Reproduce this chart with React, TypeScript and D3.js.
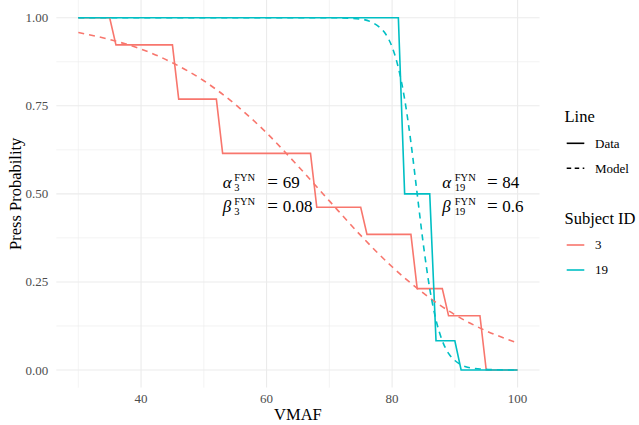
import React from "react";
import * as d3 from "d3";

// ---------- data ----------
const xTicks = [40, 60, 80, 100];
const xMinorTicks = [30, 50, 70, 90];
const yTicks = [0, 0.25, 0.5, 0.75, 1];
const yMinorTicks = [0.125, 0.375, 0.625, 0.875];

const subjects = ["3", "19"];
const subjectColors = ["#F8766D", "#00BFC4"];

// Subject 3: observed press probability (step line)
const data3X = [30, 35, 36, 45, 46, 52, 53, 67, 68, 75, 76, 83, 84, 88, 89, 94, 95, 100];
const data3Y = [1, 1, 0.923, 0.923, 0.769, 0.769, 0.615, 0.615, 0.462, 0.462, 0.385, 0.385, 0.231, 0.231, 0.154, 0.154, 0, 0];

// Subject 19: observed press probability (step line)
const data19X = [30, 81, 82, 86, 87, 90, 91, 100];
const data19Y = [1, 1, 0.5, 0.5, 0.083, 0.083, 0, 0];

// Subject 3: model curve
const model3X = [30, 35, 40, 45, 50, 55, 60, 65, 70, 75, 80, 85, 90, 95, 100];
const model3Y = [0.958, 0.938, 0.911, 0.872, 0.821, 0.754, 0.673, 0.579, 0.48, 0.382, 0.293, 0.218, 0.157, 0.111, 0.077];

// Subject 19: model curve
const model19X = [30, 70, 75, 77, 78, 79, 80, 81, 82, 83, 84, 85, 86, 87, 88, 89, 90, 91, 92, 94, 97, 100];
const model19Y = [1, 1, 0.996, 0.985, 0.973, 0.953, 0.917, 0.858, 0.769, 0.646, 0.5, 0.354, 0.231, 0.142, 0.083, 0.047, 0.027, 0.015, 0.008, 0.003, 0.0005, 0];

// Annotation values
const annSubs = ["3", "19"];
const annAlpha = ["69", "84"];
const annBeta = ["0.08", "0.6"];
const annX = [53, 88];
const annY = [0.5, 0.5];

const lineTypes = ["Data", "Model"];

// ---------- layout ----------
const W = 639;
const H = 425;
const FONT = "'Liberation Serif', 'Times New Roman', serif";

export default function App() {
  const x = d3.scaleLinear().domain([30, 100]).range([78.3, 517.6]);
  const y = d3.scaleLinear().domain([0, 1]).range([370, 17.7]);
  const xPad = 3.5;
  const yPad = 0.05;
  const pL = x(30 - xPad);
  const pR = x(100 + xPad);
  const pT = y(1 + yPad);
  const pB = y(0 - yPad);

  const toPts = (xs: number[], ys: number[]) => xs.map((v, i) => [v, ys[i]] as [number, number]);

  const stepLine = d3
    .line<[number, number]>()
    .x((d) => x(d[0]))
    .y((d) => y(d[1]));
  const smoothLine = d3
    .line<[number, number]>()
    .x((d) => x(d[0]))
    .y((d) => y(d[1]))
    .curve(d3.curveMonotoneX);

  const dataSeries = [toPts(data3X, data3Y), toPts(data19X, data19Y)];
  const modelSeries = [toPts(model3X, model3Y), toPts(model19X, model19Y)];

  const grid = "#EBEBEB";
  const tickColor = "#4D4D4D";
  const lw = 1.6;

  const legX = 566.7;
  const keyW = 17.6;

  return (
    <svg width={W} height={H} style={{ position: "absolute", left: 0, top: 0, background: "#fff" }} fontFamily={FONT}>
      <rect x={0} y={0} width={W} height={H} fill="#fff" />
      {/* grid */}
      {yMinorTicks.map((t) => (
        <line key={"ym" + t} x1={pL} x2={pR} y1={y(t)} y2={y(t)} stroke={grid} strokeWidth={0.6} />
      ))}
      {xMinorTicks.map((t) => (
        <line key={"xm" + t} x1={x(t)} x2={x(t)} y1={pT} y2={pB} stroke={grid} strokeWidth={0.6} />
      ))}
      {yTicks.map((t) => (
        <line key={"y" + t} x1={pL} x2={pR} y1={y(t)} y2={y(t)} stroke={grid} strokeWidth={1.1} />
      ))}
      {xTicks.map((t) => (
        <line key={"x" + t} x1={x(t)} x2={x(t)} y1={pT} y2={pB} stroke={grid} strokeWidth={1.1} />
      ))}

      {/* data lines */}
      {dataSeries.map((s, i) => (
        <path key={"d" + i} d={stepLine(s) || ""} fill="none" stroke={subjectColors[i]} strokeWidth={lw} />
      ))}
      {/* model lines */}
      {modelSeries.map((s, i) => (
        <path
          key={"m" + i}
          d={smoothLine(s) || ""}
          fill="none"
          stroke={subjectColors[i]}
          strokeWidth={lw}
          strokeDasharray="6,5"
        />
      ))}

      {/* annotations */}
      {annSubs.map((sub, i) => {
        const ax = x(annX[i]);
        const r1 = y(annY[i]) - 6;
        const r2 = y(annY[i]) + 18;
        const sdx = i === 0 ? 11.5 : 12.5;
        const vdx = 60;
        const rows = [
          { g: "α", v: annAlpha[i], b: r1 },
          { g: "β", v: annBeta[i], b: r2 },
        ];
        return (
          <g key={"a" + i} fill="#000">
            {rows.map((r, j) => (
              <g key={j}>
                <text x={ax} y={r.b} fontSize={17} fontStyle="italic">
                  {r.g}
                </text>
                <text x={ax + sdx} y={r.b - 7} fontSize={10.5}>
                  FYN
                </text>
                <text x={ax + sdx} y={r.b + 3.5} fontSize={10.5}>
                  {sub}
                </text>
                <text x={ax + vdx - 10} y={r.b} fontSize={19} textAnchor="middle">
                  =
                </text>
                <text x={ax + vdx} y={r.b} fontSize={17}>
                  {r.v}
                </text>
              </g>
            ))}
          </g>
        );
      })}

      {/* y axis labels */}
      {yTicks.map((t) => (
        <text key={"yl" + t} x={pL - 8} y={y(t) + 4.5} fontSize={13} fill={tickColor} textAnchor="end">
          {t.toFixed(2)}
        </text>
      ))}
      {/* x axis labels */}
      {xTicks.map((t) => (
        <text key={"xl" + t} x={x(t)} y={pB + 15.5} fontSize={13} fill={tickColor} textAnchor="middle">
          {t}
        </text>
      ))}
      <text x={(pL + pR) / 2} y={420} fontSize={16.5} textAnchor="middle" fill="#000">
        VMAF
      </text>
      <text
        transform={`translate(20.5, ${(pT + pB) / 2}) rotate(-90)`}
        fontSize={16.5}
        textAnchor="middle"
        fill="#000"
      >
        Press Probability
      </text>

      {/* legend: Line */}
      <text x={564.5} y={121.7} fontSize={16.5} fill="#000">
        Line
      </text>
      {lineTypes.map((lt, i) => {
        const ky = 143.3 + i * 25;
        return (
          <g key={"lt" + i}>
            <line
              x1={legX}
              x2={legX + keyW}
              y1={ky}
              y2={ky}
              stroke="#000"
              strokeWidth={lw}
              strokeDasharray={i === 1 ? "4.5,3.5" : undefined}
            />
            <text x={595} y={ky + 4.3} fontSize={13} fill="#000">
              {lt}
            </text>
          </g>
        );
      })}

      {/* legend: Subject ID */}
      <text x={564.5} y={223.5} fontSize={16.5} fill="#000">
        Subject ID
      </text>
      {subjects.map((s, i) => {
        const ky = 245 + i * 25;
        return (
          <g key={"sb" + i}>
            <line x1={legX} x2={legX + keyW} y1={ky} y2={ky} stroke={subjectColors[i]} strokeWidth={lw} />
            <text x={595} y={ky + 4.3} fontSize={13} fill="#000">
              {s}
            </text>
          </g>
        );
      })}
    </svg>
  );
}
